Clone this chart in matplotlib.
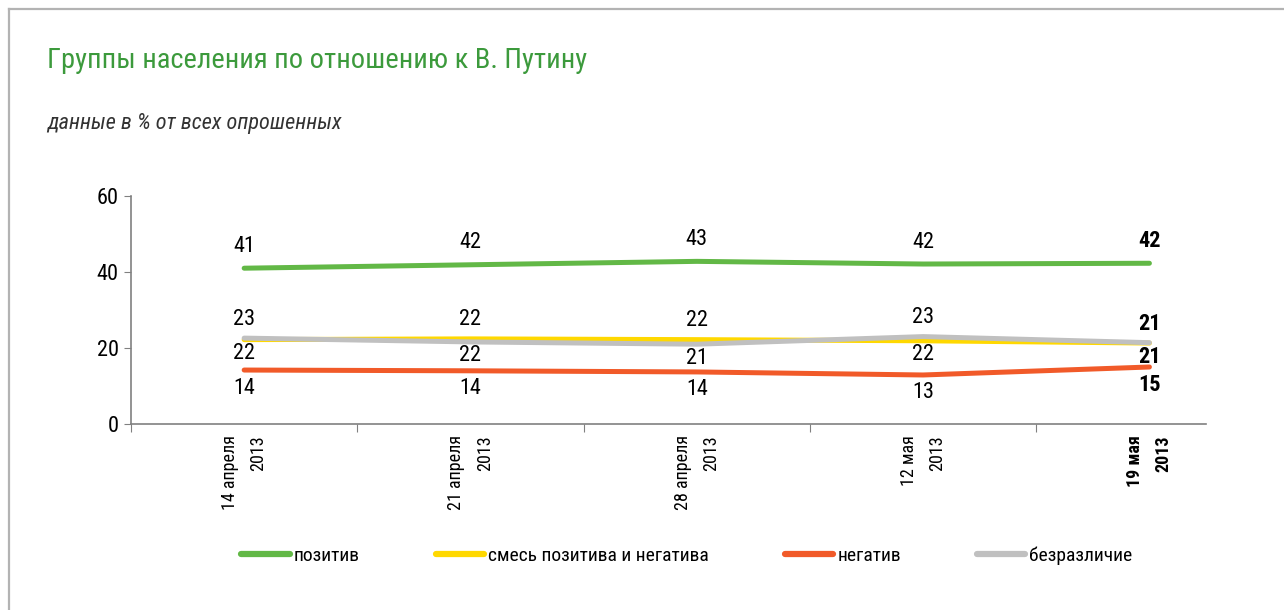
import matplotlib

matplotlib.use("Agg")
import matplotlib.pyplot as plt
from matplotlib.lines import Line2D

plt.rcParams["font.family"] = ["Roboto Condensed", "Liberation Sans Narrow", "Liberation Sans", "DejaVu Sans"]

dates = ["14 апреля\n2013", "21 апреля\n2013", "28 апреля\n2013", "12 мая\n2013", "19 мая\n2013"]
positive = [41.0, 41.9, 42.8, 42.1, 42.3]
mixed = [22.2, 22.4, 22.2, 21.9, 21.3]
negative = [14.2, 14.0, 13.7, 12.9, 15.0]
indifferent = [22.6, 21.6, 21.0, 23.0, 21.4]
series_names = ["позитив", "смесь позитива и негатива", "негатив", "безразличие"]
colors = ["#62b846", "#ffd800", "#f15a29", "#c0c0c0"]

W, H = 1284, 610
fig = plt.figure(figsize=(W / 100, H / 100), dpi=100)

# frame round the panel (right and bottom edges fall outside the picture)
fig.add_artist(Line2D([9 / W, 9 / W], [0, 1 - 9 / H], color="#b3b3b3", lw=1.6))
fig.add_artist(Line2D([9 / W, 1], [1 - 9 / H, 1 - 9 / H], color="#b3b3b3", lw=1.6))

fig.text(47 / W, 1 - 61 / H, "Группы населения по отношению к В. Путину",
         color="#3c9a3c", fontsize=20.5, va="center", ha="left")
fig.text(47 / W, 1 - 124 / H, "данные в % от всех опрошенных",
         color="#333333", fontsize=16, style="italic", va="center", ha="left")

ax = fig.add_axes([131 / W, 1 - 424 / H, (1206 - 131) / W, (424 - 196) / H])
x = list(range(len(dates)))
data = [positive, mixed, negative, indifferent]
order = [1, 3, 2, 0]  # draw grey over yellow, green on top
for i in order:
    ax.plot(x, data[i], color=colors[i], lw=3.6, solid_capstyle="round", zorder=3 + i)

ax.set_xlim(-0.5, 4.25)
ax.set_ylim(0, 60)
ax.set_yticks([0, 20, 40, 60])
ax.set_xticks([k - 0.5 for k in range(len(dates))])
ax.set_xticklabels([])
for s in ["top", "right"]:
    ax.spines[s].set_visible(False)
for s in ["left", "bottom"]:
    ax.spines[s].set_color("#808080")
    ax.spines[s].set_linewidth(1.2)
ax.tick_params(axis="y", length=5, color="#808080", labelsize=16, pad=4)
ax.tick_params(axis="x", length=6, color="#808080")

last = len(dates) - 1
for k, lab in enumerate(dates):
    ax.annotate(lab, (k, 0), xytext=(0, -11), textcoords="offset pixels",
                rotation=90, ha="center", va="top", multialignment="right",
                fontsize=13, linespacing=1.75,
                fontweight="bold" if k == last else "normal")


def label(k, v, dy):
    ax.annotate(f"{round(v)}", (k, v), xytext=(0, dy), textcoords="offset pixels",
                ha="center", va="center", fontsize=16,
                fontweight="bold" if k == last else "normal")


for k in x:
    label(k, positive[k], 22)
    label(k, negative[k], -18)
    hi, lo = (mixed[k], indifferent[k]) if mixed[k] >= indifferent[k] else (indifferent[k], mixed[k])
    label(k, hi, 19)
    label(k, lo, -14)

handles = [Line2D([], [], color=c, lw=4.5, solid_capstyle="round") for c in colors]
fig.legend(handles, series_names, loc="center", bbox_to_anchor=(687 / W, 1 - 556 / H),
           ncol=4, frameon=False, fontsize=14, handlelength=2.5, handletextpad=0.2,
           columnspacing=3.9)

fig.savefig("out.png", dpi=100)
